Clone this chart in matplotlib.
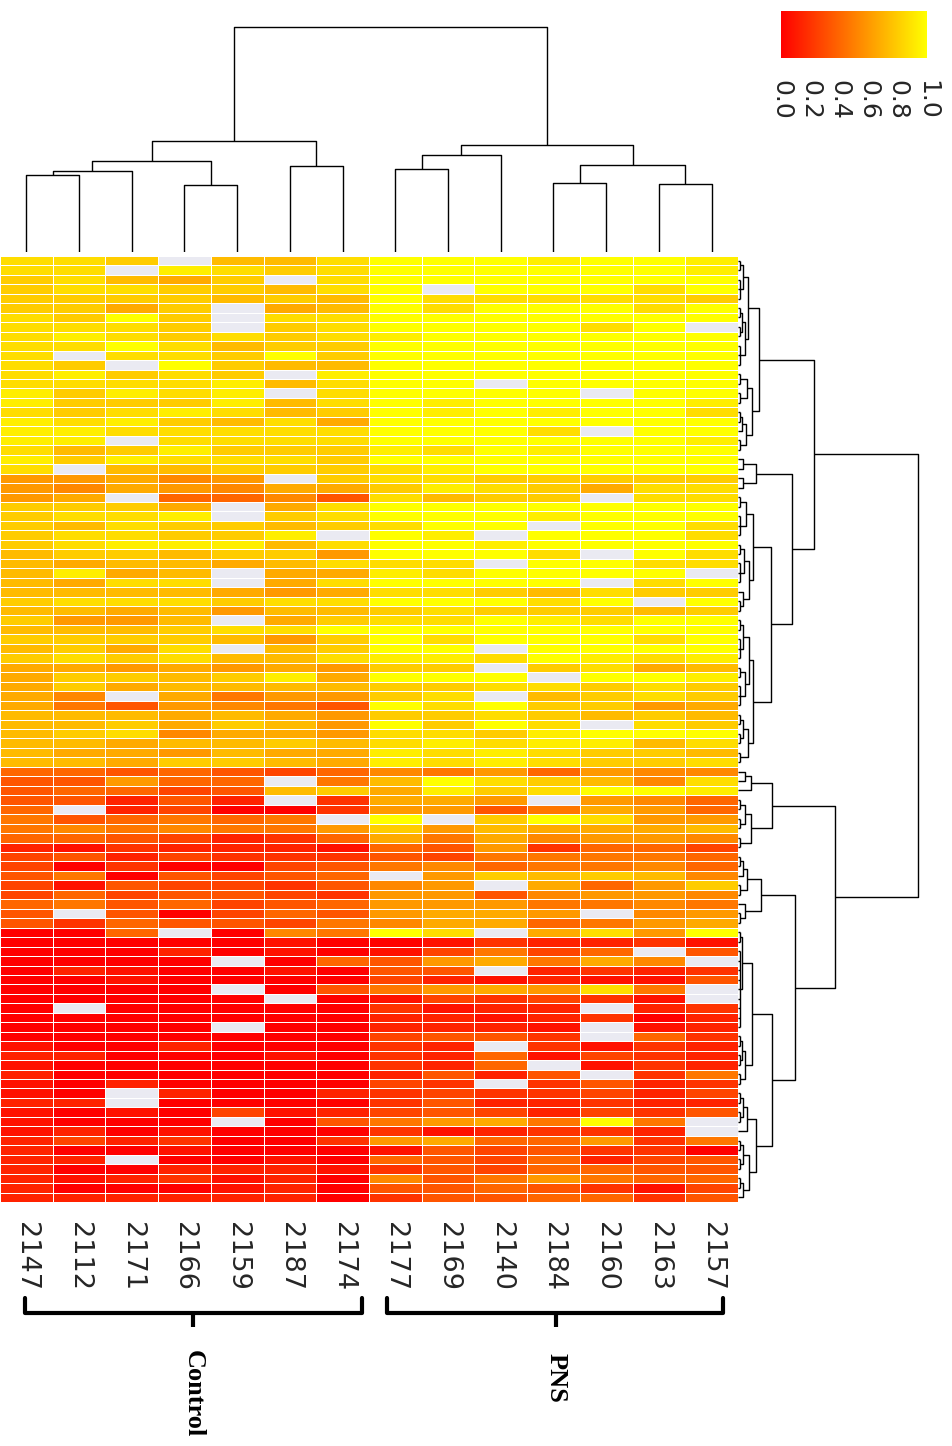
import numpy as np
import matplotlib
matplotlib.use("Agg")
import matplotlib.pyplot as plt
from matplotlib.cm import ScalarMappable
from matplotlib.colors import Normalize

# ---- samples (columns) ----
samples = ["2147", "2112", "2171", "2166", "2159", "2187", "2174",
           "2177", "2169", "2140", "2184", "2160", "2163", "2157"]
groups = ["Control", "PNS"]

# ---- heatmap values, one string per row, hex digit = value * 15, x = missing ----
rows = [
    "DDCxBBDFFFEFFE", "DDxEDCDFFFFFFE", "CDBACxDFFFFFFF", "CDDCCBDFxFFFDF",
    "CCCCBCBFDDDDDC", "CCACxABFDFFFDF", "DCFCxDDFFFFFFF", "DDDCxCDFFFFDFx",
    "DEDCDCDEFFFFFF", "DDFDBCCFFFFFFF", "DxDDCFCFFFFFFF", "DCxFCBBFFFFFFF",
    "DECDCxEFFFFFFF", "DDDDEBDFFxFFFF", "ECEDExDFFFFxFF", "ECCCEBDFEFFFFE",
    "DCDEDBCFEFEFFD", "EDECBDAFFFFFFF", "EEDDDDDFFFDxFF", "EExDDDDFFFFFFE",
    "DBCECCCEDFEFFF", "ECEDDDCFFFFFFF", "DxBBCCCDEFFFFF", "99A89xCDDCCCCC",
    "98A98AACEDCADD", "9Ax6685DBCCxDD", "CCCAxADFFFFFFF", "CDDExCDFFFEFFF",
    "CBDCCBCDFFxFFD", "CDDCCExFExFFFD", "CDEEEBDFFEFFFF", "BCCBCC9FFFDxFD",
    "BABBABDDDxFFDD", "BEABxAAEDFFFFx", "BADDxADFFFFxDF", "BBBBA9ADDCBDCC",
    "CDDDCDDFFFDFxF", "BBAB9BBCDCCCBC", "C99BxACDDFEDFF", "BBBCDDFFFFFFFF",
    "CCCCB9CFDFFFDF", "BCADxBCFFxFFFF", "CDCDBBDEEDFEDE", "AA9A9A9CCxCDAB",
    "ACCBCEAFFFxFFE", "ACABBBBCCDDCDC", "A8xA799CDxBCDC", "A759875FDFCC9A",
    "BBBABA9CCDCBCB", "BBCACB9FCFDxDC", "BCD8AA9DDCEFFF", "BBABBCBDEDEEBD",
    "BAA9BAAEDEDCCB", "BBACCBAEDEDCCD", "66565468796988", "55966x7BFDCB8D",
    "56645BCAECDFFE", "55252x3AA9x986", "6x240039957A96", "756767xFxCFD99",
    "7878779C9BAAAB", "6654236A7A8998", "21322216593664", "45243335477776",
    "40300457867786", "5705456x9CBCB8", "415443589xA69C", "46455439958998",
    "67564569997787", "5x504659AA9x89", "53655478AA679A", "006x087FDxAD9F",
    "00000100132231", "000201014746x5", "0000x0659A7A8x", "021001055x2323",
    "00100004212115", "0000x0579A9D7x", "00000x0143431x", "0x000003122x23",
    "00000002212302", "0000x002221x12", "00000004553x63", "100200032x3132",
    "22000103261432", "1000000326x132", "20000002525x37", "102000043x3523",
    "10x20023433424", "22x00003522322", "10104124542435", "1000x0579A7F7x",
    "1201000312332x", "24230039A66937", "20010001545330", "22x00106546245",
    "20022213546655", "21231208579766", "20001205565314", "22222203556635",
]

# ---- column dendrogram: (height, left, right), int = number of leaves ----
col_tree = (1.0,
            (0.493, (0.404, (0.36, (0.342, 1, 1), 1), (0.298, 1, 1)), (0.382, 1, 1)),
            (0.476, (0.431, (0.369, 1, 1), 1), (0.387, (0.307, 1, 1), (0.302, 1, 1))))

# ---- row dendrogram ----
ua = (0.118,
      (0.054, (0.03, 2, 3), (0.04, (0.02, 2, 2), 3)),
      (0.078, (0.05, 2, 2), (0.045, (0.02, 2, 1), 2)))
ub = (0.30,
      (0.10, (0.03, 1, 1), (0.03, 1, 1)),
      (0.183,
       (0.085, (0.045, 2, 3), (0.06, (0.035, 2, 3), (0.03, 1, 2))),
       (0.085, (0.06, (0.03, 2, 3), (0.04, 2, 3)), (0.055, (0.03, 2, 2), 2))))
la = (0.189, (0.07, (0.04, 1, 1), 1), (0.07, (0.04, 2, 2), 2))
lb = (0.317,
      (0.128, (0.05, (0.03, 2, 1), 2), (0.04, 1, 2)),
      (0.189,
       (0.078, (0.022, 2, 9), (0.04, (0.025, 2, 2), 2)),
       (0.10, (0.05, (0.03, 2, 2), 1), (0.06, (0.03, 2, 2), (0.03, 2, 1)))))
row_tree = (1.0, (0.422, ua, ub), (0.539, la, lb))

LEAF_H = 0.012
W, H = 953, 1446


def box(x0, y0, x1, y1):
    return [x0 / W, 1 - y1 / H, (x1 - x0) / W, (y1 - y0) / H]


def draw_tree(ax, node, start, vertical):
    def seg(ps, hs):
        if vertical:
            ax.plot(ps, hs, color="k", lw=1.0, solid_capstyle="butt")
        else:
            ax.plot(hs, ps, color="k", lw=1.0, solid_capstyle="butt")

    if isinstance(node, int):
        pos = start + np.arange(node) + 0.5
        if node == 1:
            return pos[0], 0.0, start + 1
        for p in pos:
            seg([p, p], [0, LEAF_H])
        seg([pos[0], pos[-1]], [LEAF_H, LEAF_H])
        return pos.mean(), LEAF_H, start + node
    h, left, right = node
    cl, hl, s = draw_tree(ax, left, start, vertical)
    cr, hr, s = draw_tree(ax, right, s, vertical)
    seg([cl, cl, cr, cr], [hl, h, h, hr])
    return (cl + cr) / 2, h, s


data = np.array([[np.nan if c == "x" else int(c, 16) / 15 for c in r] for r in rows])
n_rows, n_cols = data.shape

fig = plt.figure(figsize=(W / 100, H / 100), dpi=100)

# heatmap
ax = fig.add_axes(box(0, 256, 738, 1202))
ax.set_facecolor("#EAEAF2")
ax.pcolormesh(np.ma.masked_invalid(data), cmap="autumn", vmin=0, vmax=1,
              edgecolors="white", linewidth=0.6)
ax.set_xlim(0, n_cols)
ax.set_ylim(n_rows, 0)
ax.set_yticks([])
ax.set_xticks(np.arange(n_cols) + 0.5)
ax.set_xticklabels(samples, rotation=270, fontsize=19.5, color="#262626")
ax.tick_params(axis="x", length=0, pad=14.5)
for sp in ax.spines.values():
    sp.set_visible(False)

# column dendrogram
ax_top = fig.add_axes(box(0, 15.75, 738, 252))
draw_tree(ax_top, col_tree, 0, True)
ax_top.set_xlim(0, n_cols)
ax_top.set_ylim(0, 1.05)
ax_top.axis("off")

# row dendrogram
ax_right = fig.add_axes(box(738, 256, 927, 1202))
draw_tree(ax_right, row_tree, 0, False)
ax_right.set_ylim(n_rows, 0)
ax_right.set_xlim(0, 1.05)
ax_right.axis("off")

# colour bar
ax_cb = fig.add_axes(box(781, 11, 927, 58))
cb = fig.colorbar(ScalarMappable(Normalize(0, 1), cmap="autumn"), cax=ax_cb,
                  orientation="horizontal")
cb.outline.set_visible(False)
cb.set_ticks([0, 0.2, 0.4, 0.6, 0.8, 1.0])
cb.set_ticklabels(["0.0", "0.2", "0.4", "0.6", "0.8", "1.0"])
ax_cb.tick_params(axis="x", length=0, pad=16, labelsize=18, labelcolor="#262626",
                  labelrotation=270)

# group brackets
ax_note = fig.add_axes(box(0, 1202, 738, 1446))
ax_note.set_xlim(0, n_cols)
ax_note.set_ylim(H, 1202)
ax_note.axis("off")
brackets = [(0.47, 6.87, 3.66, 1350), (7.34, 13.72, 10.55, 1353)]
for name, (x0, x1, xm, ty) in zip(groups, brackets):
    ax_note.plot([x0, x0, x1, x1], [1298, 1313, 1313, 1298], color="k", lw=3,
                 solid_joinstyle="round", solid_capstyle="round")
    ax_note.plot([xm, xm], [1313, 1327], color="k", lw=3, solid_capstyle="butt")
    ax_note.text(xm, ty, name, rotation=270, ha="center", va="top",
                 fontsize=19, fontweight="bold", family="Liberation Serif")

fig.savefig("out.png", dpi=100)
